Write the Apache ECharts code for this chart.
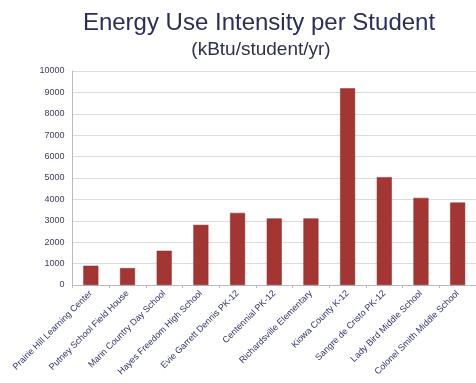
<!DOCTYPE html>
<html>
<head>
<meta charset="utf-8">
<script src="https://cdn.jsdelivr.net/npm/echarts@6/dist/echarts.min.js"></script>
<style>
  html, body { margin: 0; padding: 0; background: #fff; }
  #chart { width: 476px; height: 383px; }
</style>
</head>
<body>
<div id="chart"></div>
<script>
// schools, left to right
const schools = [
  "Prairie Hill Learning Center",
  "Putney School Field House",
  "Marin Country Day School",
  "Hayes Freedom High School",
  "Evie Garrett Dennis PK-12",
  "Centennial PK-12",
  "Richardsville Elementary",
  "Kiowa County K-12",
  "Sangre de Cristo PK-12",
  "Lady Bird Middle School",
  "Colonel Smith Middle School"
];
// kBtu per student per year
const euiPerStudent = [900, 790, 1600, 2810, 3370, 3110, 3110, 9190, 5040, 4070, 3850];

const yMin = 0;
const yMax = 10000;
const yStep = 1000;

const font = "Liberation Sans, Arial, sans-serif";
const navy = "#2b2d5a";

const chart = echarts.init(document.getElementById("chart"));
chart.setOption({
  animation: false,
  backgroundColor: "#fff",
  title: [
    {
      text: "Energy Use Intensity per Student",
      left: 254,
      top: 6,
      textAlign: "center",
      textStyle: { fontFamily: font, fontSize: 24, fontWeight: "normal", color: navy }
    },
    {
      text: "(kBtu/student/yr)",
      left: 256,
      top: 35,
      textAlign: "center",
      textStyle: { fontFamily: font, fontSize: 19, fontWeight: "normal", color: "#2f3150" }
    }
  ],
  grid: { left: 72.5, right: -3.5, top: 71, bottom: 98 },
  xAxis: {
    type: "category",
    data: schools,
    axisLine: { lineStyle: { color: "#b8b8c0" } },
    axisTick: { show: true, length: 3, lineStyle: { color: "#b8b8c0" } },
    axisLabel: {
      interval: 0,
      rotate: 45,
      margin: 7,
      fontFamily: font,
      fontSize: 9,
      color: "#2f3166"
    }
  },
  yAxis: {
    type: "value",
    min: yMin,
    max: yMax,
    interval: yStep,
    axisLine: { show: true, lineStyle: { color: "#b8b8c0" } },
    axisTick: { show: false },
    splitLine: { lineStyle: { color: "#dcdcdc" } },
    axisLabel: {
      fontFamily: font,
      fontSize: 9,
      color: "#3a3c5e",
      margin: 8,
      formatter: (v) => String(v)
    }
  },
  series: [{
    type: "bar",
    data: euiPerStudent,
    barWidth: 15,
    itemStyle: { color: "#a33533", borderColor: "#8a2826", borderWidth: 0.5 }
  }]
});
</script>
</body>
</html>
